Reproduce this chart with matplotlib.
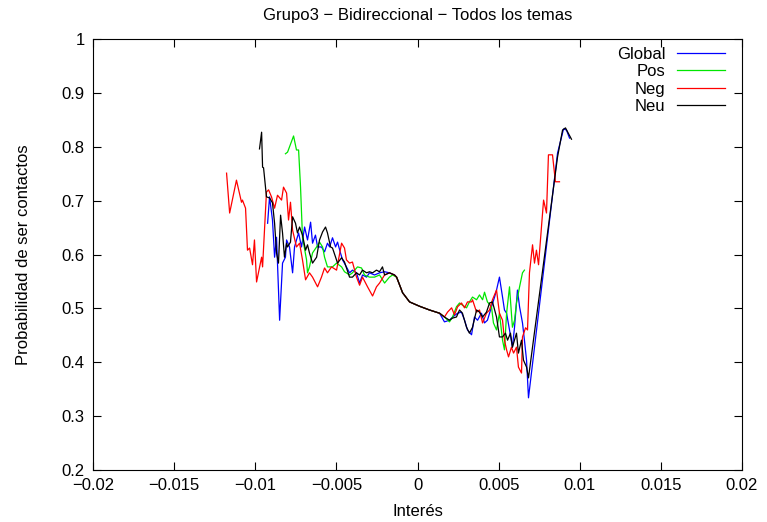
import matplotlib
matplotlib.use("Agg")
import matplotlib.pyplot as plt
from matplotlib.ticker import FuncFormatter

plt.rcParams['font.family'] = ['Liberation Sans', 'DejaVu Sans']

# tramo central comun a las cuatro series
mid_x = [-0.00129, -0.00092, -0.00049, 0.00012, 0.00074, 0.00136]
mid_y = [0.558, 0.529, 0.512, 0.504, 0.497, 0.491]

# Global
glob_x = [-0.00924, -0.00912, -0.00894, -0.00881, -0.00869, -0.00850, -0.00832, -0.00814,
          -0.00807, -0.00789, -0.00770, -0.00758, -0.00746, -0.00733, -0.00715, -0.00696,
          -0.00678, -0.00659, -0.00647, -0.00629, -0.00616, -0.00592, -0.00573, -0.00555,
          -0.00542, -0.00524, -0.00505, -0.00493, -0.00475, -0.00462, -0.00438, -0.00419,
          -0.00401, -0.00376, -0.00357, -0.00339, -0.00314, -0.00296, -0.00265, -0.00234,
          -0.00203, -0.00173, -0.00142] + mid_x + \
         [0.00166, 0.00197, 0.00216, 0.00247, 0.00271, 0.00290, 0.00308, 0.00333, 0.00351,
          0.00370, 0.00394, 0.00413, 0.00431, 0.00456, 0.00475, 0.00487, 0.00505, 0.00524,
          0.00536, 0.00549, 0.00567, 0.00585, 0.00598, 0.00616, 0.00629, 0.00647, 0.00659,
          0.00672, 0.00684, 0.00863, 0.00900, 0.00918, 0.00937]
glob_y = [0.658, 0.707, 0.664, 0.595, 0.632, 0.478, 0.584, 0.595,
          0.627, 0.614, 0.566, 0.614, 0.627, 0.640, 0.614, 0.651,
          0.627, 0.660, 0.621, 0.636, 0.614, 0.614, 0.605, 0.621,
          0.614, 0.631, 0.614, 0.623, 0.603, 0.590, 0.577, 0.566,
          0.571, 0.566, 0.547, 0.562, 0.558, 0.566, 0.562, 0.566,
          0.568, 0.566, 0.562] + mid_y + \
         [0.475, 0.478, 0.484, 0.491, 0.493, 0.478, 0.460, 0.451, 0.484,
          0.478, 0.491, 0.473, 0.478, 0.503, 0.521, 0.534, 0.558, 0.521,
          0.497, 0.491, 0.460, 0.428, 0.465, 0.534, 0.503, 0.473, 0.441,
          0.404, 0.334, 0.788, 0.833, 0.831, 0.816]

# Pos
pos_x = [-0.00814, -0.00801, -0.00764, -0.00746, -0.00733, -0.00721, -0.00709, -0.00684,
         -0.00678, -0.00666, -0.00647, -0.00622, -0.00604, -0.00585, -0.00573, -0.00555,
         -0.00524, -0.00499, -0.00468, -0.00450, -0.00419, -0.00401, -0.00370, -0.00345,
         -0.00327, -0.00296, -0.00265, -0.00234, -0.00203, -0.00173, -0.00154] + mid_x + \
        [0.00166, 0.00197, 0.00216, 0.00240, 0.00259, 0.00277, 0.00302, 0.00320, 0.00339,
         0.00364, 0.00382, 0.00401, 0.00413, 0.00431, 0.00456, 0.00468, 0.00487, 0.00505,
         0.00524, 0.00536, 0.00549, 0.00567, 0.00585, 0.00598, 0.00610, 0.00629, 0.00647,
         0.00659]
pos_y = [0.787, 0.790, 0.820, 0.794, 0.794, 0.725, 0.632, 0.590,
         0.566, 0.577, 0.603, 0.614, 0.623, 0.614, 0.595, 0.577,
         0.577, 0.584, 0.577, 0.568, 0.562, 0.566, 0.577, 0.575,
         0.562, 0.558, 0.558, 0.562, 0.547, 0.558, 0.562] + mid_y + \
        [0.484, 0.475, 0.484, 0.503, 0.510, 0.506, 0.501, 0.512, 0.521,
         0.516, 0.525, 0.516, 0.530, 0.512, 0.503, 0.473, 0.460, 0.491,
         0.441, 0.423, 0.491, 0.540, 0.465, 0.478, 0.510, 0.540, 0.566,
         0.571]

# Neg
neg_x = [-0.01177, -0.01158, -0.01116, -0.01085, -0.01079, -0.01060, -0.01048, -0.01035,
         -0.01017, -0.01005, -0.00992, -0.00961, -0.00955, -0.00931, -0.00918, -0.00900,
         -0.00881, -0.00863, -0.00838, -0.00826, -0.00807, -0.00795, -0.00783, -0.00770,
         -0.00746, -0.00727, -0.00709, -0.00690, -0.00666, -0.00647, -0.00616, -0.00592,
         -0.00573, -0.00555, -0.00530, -0.00499, -0.00468, -0.00450, -0.00438, -0.00419,
         -0.00401, -0.00376, -0.00357, -0.00339, -0.00308, -0.00277, -0.00253, -0.00234,
         -0.00203, -0.00173, -0.00142] + mid_x + \
        [0.00166, 0.00185, 0.00210, 0.00228, 0.00247, 0.00271, 0.00290, 0.00308, 0.00333,
         0.00339, 0.00364, 0.00382, 0.00401, 0.00425, 0.00444, 0.00462, 0.00487, 0.00505,
         0.00524, 0.00536, 0.00549, 0.00561, 0.00579, 0.00592, 0.00610, 0.00622, 0.00641,
         0.00647, 0.00666, 0.00678, 0.00690, 0.00709, 0.00721, 0.00733, 0.00746, 0.00764,
         0.00777, 0.00795, 0.00807, 0.00832, 0.00850, 0.00875]
neg_y = [0.751, 0.677, 0.738, 0.697, 0.701, 0.686, 0.608, 0.612,
         0.581, 0.627, 0.549, 0.595, 0.577, 0.716, 0.720, 0.707,
         0.686, 0.710, 0.701, 0.725, 0.714, 0.664, 0.697, 0.645,
         0.614, 0.621, 0.590, 0.553, 0.566, 0.558, 0.540, 0.558,
         0.575, 0.566, 0.577, 0.571, 0.621, 0.612, 0.590, 0.584,
         0.586, 0.558, 0.543, 0.558, 0.540, 0.523, 0.540, 0.547,
         0.562, 0.566, 0.562] + mid_y + \
        [0.484, 0.493, 0.501, 0.488, 0.503, 0.510, 0.501, 0.512, 0.512,
         0.516, 0.493, 0.497, 0.473, 0.491, 0.497, 0.516, 0.534, 0.491,
         0.478, 0.441, 0.423, 0.410, 0.428, 0.417, 0.428, 0.391, 0.380,
         0.447, 0.464, 0.460, 0.566, 0.618, 0.584, 0.608, 0.581, 0.651,
         0.701, 0.677, 0.785, 0.785, 0.735, 0.735]

# Neu
neu_x = [-0.00974, -0.00961, -0.00955, -0.00949, -0.00931, -0.00912, -0.00894, -0.00881,
         -0.00869, -0.00857, -0.00844, -0.00832, -0.00820, -0.00807, -0.00801, -0.00783,
         -0.00770, -0.00752, -0.00740, -0.00727, -0.00709, -0.00690, -0.00678, -0.00666,
         -0.00647, -0.00622, -0.00604, -0.00585, -0.00567, -0.00555, -0.00536, -0.00524,
         -0.00505, -0.00493, -0.00468, -0.00450, -0.00419, -0.00401, -0.00376, -0.00357,
         -0.00339, -0.00314, -0.00296, -0.00277, -0.00253, -0.00234, -0.00216, -0.00203,
         -0.00173, -0.00142] + mid_x + \
        [0.00166, 0.00197, 0.00216, 0.00240, 0.00259, 0.00277, 0.00302, 0.00320, 0.00339,
         0.00364, 0.00382, 0.00401, 0.00425, 0.00444, 0.00462, 0.00487, 0.00505, 0.00524,
         0.00542, 0.00555, 0.00573, 0.00585, 0.00610, 0.00622, 0.00641, 0.00653, 0.00672,
         0.00684, 0.00863, 0.00894, 0.00912, 0.00949]
neu_y = [0.796, 0.827, 0.762, 0.761, 0.707, 0.705, 0.696, 0.658,
         0.603, 0.584, 0.673, 0.640, 0.595, 0.621, 0.614, 0.623,
         0.670, 0.658, 0.640, 0.651, 0.636, 0.608, 0.618, 0.603,
         0.584, 0.595, 0.627, 0.642, 0.651, 0.640, 0.614, 0.612,
         0.595, 0.584, 0.594, 0.586, 0.558, 0.558, 0.566, 0.562,
         0.571, 0.566, 0.568, 0.566, 0.571, 0.568, 0.577, 0.562,
         0.566, 0.562] + mid_y + \
        [0.484, 0.478, 0.482, 0.484, 0.497, 0.491, 0.465, 0.454, 0.465,
         0.497, 0.493, 0.484, 0.493, 0.510, 0.512, 0.484, 0.447, 0.447,
         0.454, 0.441, 0.454, 0.428, 0.454, 0.417, 0.441, 0.404, 0.391,
         0.371, 0.781, 0.831, 0.835, 0.814]

fig = plt.figure(figsize=(7.67, 5.22), dpi=100)
ax = fig.add_axes([0.1213, 0.0996, 0.8461, 0.8257])

ax.plot(glob_x, glob_y, color='#0000ff', lw=0.9, label='Global')
ax.plot(pos_x, pos_y, color='#00e600', lw=0.9, label='Pos')
ax.plot(neg_x, neg_y, color='#ff0000', lw=0.9, label='Neg')
ax.plot(neu_x, neu_y, color='#000000', lw=0.9, label='Neu')

ax.set_xlim(-0.02, 0.02)
ax.set_ylim(0.2, 1.0)
ax.set_xticks([-0.02, -0.015, -0.01, -0.005, 0, 0.005, 0.01, 0.015, 0.02])
ax.set_yticks([0.2, 0.3, 0.4, 0.5, 0.6, 0.7, 0.8, 0.9, 1.0])
fmt = FuncFormatter(lambda v, p: ('%g' % round(v, 4)).replace('-', '\u2212'))
ax.xaxis.set_major_formatter(fmt)
ax.yaxis.set_major_formatter(fmt)
ax.tick_params(direction='in', length=5.5, width=0.8, top=True, right=True,
               labelsize=12, pad=6)
for s in ax.spines.values():
    s.set_linewidth(0.8)

ax.set_xlabel('Inter\u00e9s', fontsize=12, labelpad=8)
ax.set_ylabel('Probabilidad de ser contactos', fontsize=12, labelpad=22)
ax.set_title('Grupo3 \u2212 Bidireccional \u2212 Todos los temas', fontsize=12, pad=14)

ax.legend(loc='upper right', frameon=False, markerfirst=False, fontsize=12,
          handlelength=2.9, handletextpad=0.66, labelspacing=0.14,
          borderpad=0, borderaxespad=0,
          bbox_to_anchor=(725 / 767, 1 - 47 / 522), bbox_transform=fig.transFigure)

fig.savefig('out.png', dpi=100)
